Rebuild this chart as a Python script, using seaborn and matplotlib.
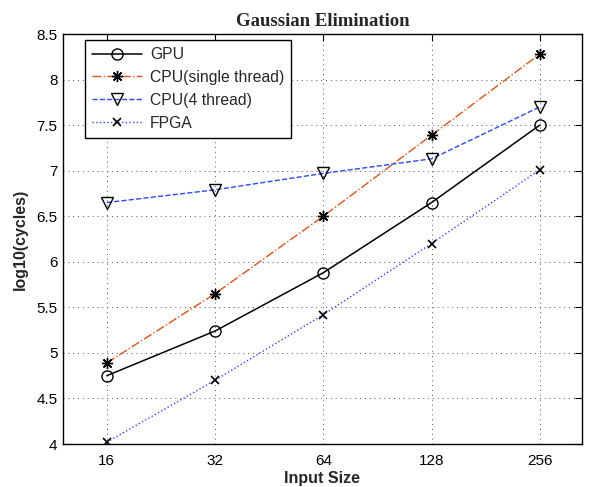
import matplotlib
matplotlib.use("Agg")
import matplotlib.pyplot as plt
import seaborn as sns
import pandas as pd
import numpy as np

input_sizes = [16, 32, 64, 128, 256]
tick_labels = ["16", "32", "64", "128", "256"]
gpu = [4.75, 5.24, 5.88, 6.65, 7.50]
cpu_single = [4.89, 5.65, 6.50, 7.39, 8.28]
cpu_4 = [6.65, 6.79, 6.97, 7.13, 7.70]
fpga = [4.02, 4.70, 5.42, 6.20, 7.01]

series_names = ["GPU", "CPU(single thread)", "CPU(4 thread)", "FPGA"]
series_values = [gpu, cpu_single, cpu_4, fpga]

sns.set_style("white")
plt.rcParams["font.family"] = ["Liberation Sans", "DejaVu Sans"]

fig = plt.figure(figsize=(5.91, 4.87), dpi=100)
ax = fig.add_axes([63 / 591, 43 / 487, 519 / 591, 410 / 487])

styles = [
    dict(color="black", linestyle="-", marker="o", markersize=8,
         markerfacecolor="none", markeredgecolor="black", markeredgewidth=1.0, linewidth=1.1),
    dict(color="#D9541A", linestyle="-.", marker=(8, 2, 0), markersize=8,
         markeredgecolor="black", markeredgewidth=1.0, linewidth=1.0,
         dashes=[6, 3, 1, 3]),
    dict(color="#2A4BF0", linestyle="--", marker="v", markersize=9,
         markerfacecolor="none", markeredgecolor="black", markeredgewidth=1.0, linewidth=1.0,
         dashes=[7, 5]),
    dict(color="#3344FF", linestyle=":", marker="x", markersize=6,
         markeredgecolor="black", markeredgewidth=1.2, linewidth=1.0),
]

for name, vals, st in zip(series_names, series_values, styles):
    df = pd.DataFrame({"size": input_sizes, "val": vals})
    sns.lineplot(data=df, x="size", y="val", ax=ax, label=name, **st)

ax.set_xscale("log", base=2)
ax.set_xlim(16 / 2 ** 0.405, 256 * 2 ** 0.39)
ax.set_xticks(input_sizes)
ax.set_xticklabels(tick_labels)
ax.xaxis.set_minor_locator(matplotlib.ticker.NullLocator())
ax.set_ylim(4, 8.5)
ax.set_yticks(np.arange(4, 8.51, 0.5))
ax.set_yticklabels(["4", "4.5", "5", "5.5", "6", "6.5", "7", "7.5", "8", "8.5"])

ax.grid(True, linestyle=(0, (1, 4)), color="#555555", linewidth=0.7)
ax.tick_params(direction="in", length=5, width=0.8, top=True, right=True,
               labelsize=11, colors="black", pad=4)
ax.tick_params(axis="x", pad=7)
for sp in ax.spines.values():
    sp.set_visible(True)
    sp.set_color("black")
    sp.set_linewidth(1.0)

ax.set_xlabel("Input Size", fontsize=11.5, fontweight="bold", labelpad=2)
ax.set_ylabel("log10(cycles)", fontsize=11.5, fontweight="bold", labelpad=6)
ax.set_title("Gaussian Elimination", fontsize=13.5, fontweight="bold",
             family=["Liberation Serif", "DejaVu Serif"], pad=6)

leg = ax.legend(loc="upper left", bbox_to_anchor=(22 / 519, 1 - 6 / 410), fontsize=11.3,
                frameon=True, fancybox=False, edgecolor="black", framealpha=1,
                handlelength=3.2, borderpad=0.45, labelspacing=0.5, handletextpad=0.5,
                borderaxespad=0)
leg.get_frame().set_linewidth(1.0)

fig.savefig("out.png", dpi=100)
